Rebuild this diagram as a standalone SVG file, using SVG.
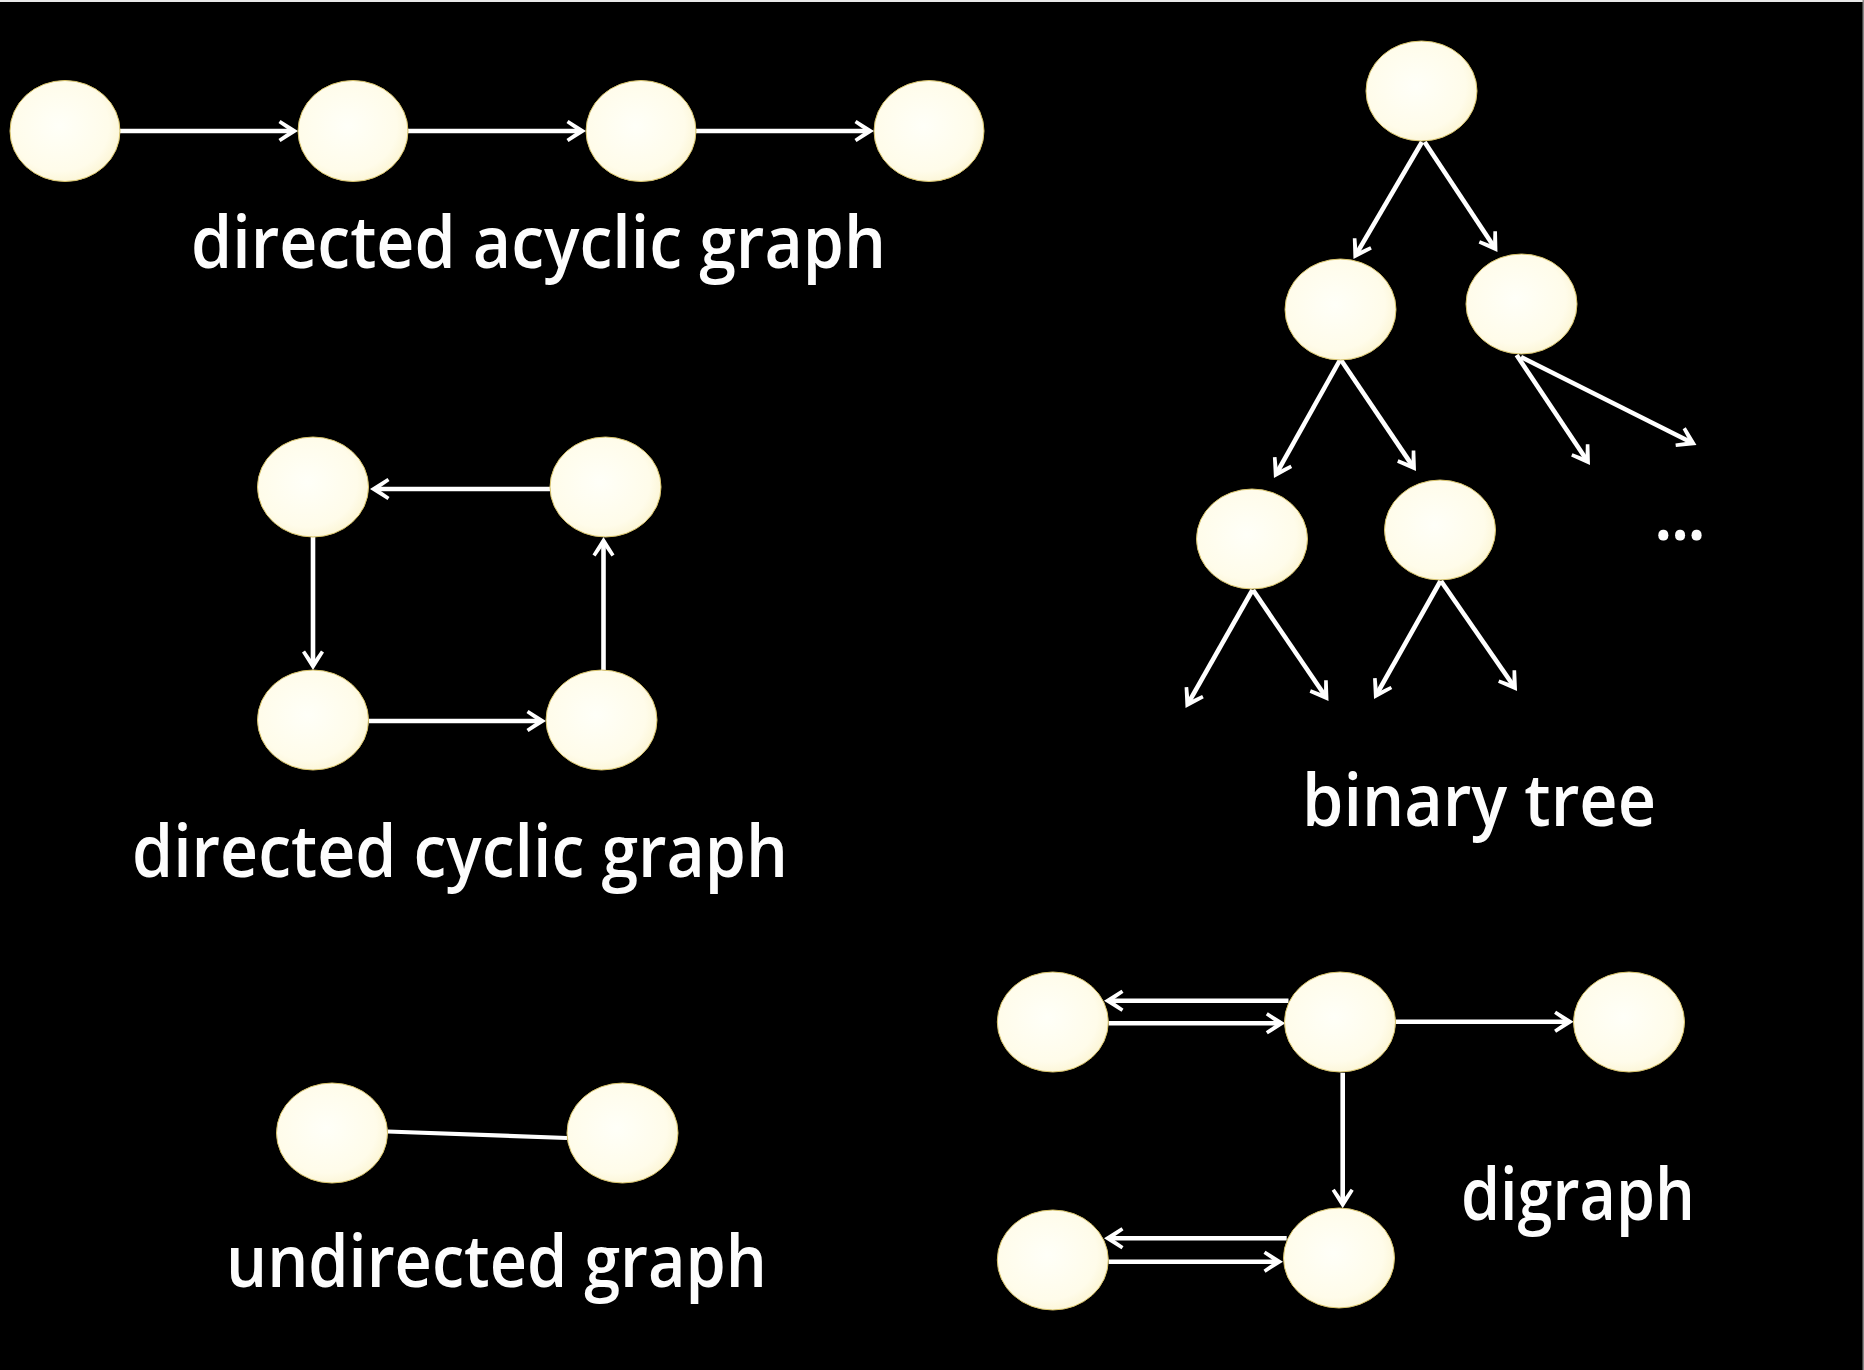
<svg xmlns="http://www.w3.org/2000/svg" width="1864" height="1370" viewBox="0 0 1864 1370">
<style>
.node{fill:url(#cream);stroke:#d8c36a;stroke-width:1}
.edge{stroke:#ffffff;stroke-width:4.6;fill:none;marker-end:url(#arr)}
.plain{stroke:#ffffff;stroke-width:4.2;fill:none}
.lbl{font-family:"Open Sans","Noto Sans","DejaVu Sans",sans-serif;font-size:72px;font-weight:600;fill:#fdfdfd}
</style>
<defs>
<radialGradient id="cream" cx="0.45" cy="0.45" r="0.6">
<stop offset="0" stop-color="#fffff8"/>
<stop offset="0.75" stop-color="#fffcea"/>
<stop offset="1" stop-color="#fbf4d2"/>
</radialGradient>
<marker id="arr" viewBox="-22 -15 28 30" markerWidth="28" markerHeight="30" refX="-5" refY="0" orient="auto" markerUnits="userSpaceOnUse">
<polygon points="0,0 -17.5,-11 -19.5,-8 -8,0 -19.5,8 -17.5,11" fill="#ffffff"/>
</marker>
</defs>
<rect x="0" y="0" width="1864" height="1370" fill="#000000"/>
<rect x="0" y="0" width="1864" height="2" fill="#e8e8e8"/>
<rect x="1862.5" y="0" width="1.5" height="1370" fill="#888888"/>

<g id="connectors">
<!-- directed acyclic graph -->
<line class="edge" x1="120" y1="131" x2="293" y2="131"/>
<line class="edge" x1="408" y1="131" x2="581" y2="131"/>
<line class="edge" x1="696" y1="131" x2="869" y2="131"/>
<!-- directed cyclic graph -->
<line class="edge" x1="550" y1="489" x2="375" y2="489"/>
<line class="edge" x1="313" y1="537" x2="313" y2="665"/>
<line class="edge" x1="369" y1="721" x2="541" y2="721"/>
<line class="edge" x1="603.5" y1="670" x2="603.5" y2="542"/>
<!-- undirected graph -->
<line class="plain" x1="387.5" y1="1131.5" x2="567" y2="1138"/>
<!-- binary tree -->
<line class="edge" x1="1422" y1="142" x2="1356" y2="254.7"/>
<line class="edge" x1="1424.6" y1="142" x2="1494.7" y2="247.8"/>
<line class="edge" x1="1340" y1="360" x2="1276.4" y2="473.6"/>
<line class="edge" x1="1341" y1="360" x2="1413.2" y2="466.9"/>
<line class="edge" x1="1516.6" y1="355" x2="1587.2" y2="460.8"/>
<line class="edge" x1="1521" y1="357" x2="1692" y2="442.8"/>
<line class="edge" x1="1252.5" y1="590" x2="1188" y2="703.6"/>
<line class="edge" x1="1253" y1="590" x2="1325.7" y2="696.8"/>
<line class="edge" x1="1440.5" y1="581" x2="1376.5" y2="694.6"/>
<line class="edge" x1="1441" y1="581" x2="1514.2" y2="686.8"/>
<!-- digraph -->
<line class="edge" x1="1108.6" y1="1023.3" x2="1280.3" y2="1023.3"/>
<line class="edge" x1="1288.5" y1="1000.7" x2="1109" y2="1000.7"/>
<line class="edge" x1="1395.5" y1="1021.7" x2="1568.6" y2="1021.7"/>
<line class="edge" x1="1342.7" y1="1072.7" x2="1342.7" y2="1203.3"/>
<line class="edge" x1="1286.7" y1="1238.3" x2="1109" y2="1238.3"/>
<line class="edge" x1="1108.6" y1="1261.7" x2="1278" y2="1261.7"/>
</g>

<g id="dag">
<g id="dag-n1"><ellipse class="node" cx="65" cy="131" rx="55" ry="50.5"/></g>
<g id="dag-n2"><ellipse class="node" cx="353" cy="131" rx="55" ry="50.5"/></g>
<g id="dag-n3"><ellipse class="node" cx="641" cy="131" rx="55" ry="50.5"/></g>
<g id="dag-n4"><ellipse class="node" cx="929" cy="131" rx="55" ry="50.5"/></g>
<g id="dag-label"><text class="lbl" x="191" y="268" textLength="695" lengthAdjust="spacingAndGlyphs">directed acyclic graph</text></g>
</g>

<g id="dcg">
<g id="dcg-tl"><ellipse class="node" cx="313" cy="487" rx="55.5" ry="50"/></g>
<g id="dcg-tr"><ellipse class="node" cx="605.5" cy="487" rx="55.5" ry="50"/></g>
<g id="dcg-bl"><ellipse class="node" cx="313" cy="720" rx="55.5" ry="50"/></g>
<g id="dcg-br"><ellipse class="node" cx="601.5" cy="720" rx="55.5" ry="50"/></g>
<g id="dcg-label"><text class="lbl" x="132" y="877" textLength="656" lengthAdjust="spacingAndGlyphs">directed cyclic graph</text></g>
</g>

<g id="ug">
<g id="ug-l"><ellipse class="node" cx="332" cy="1133" rx="55.5" ry="50"/></g>
<g id="ug-r"><ellipse class="node" cx="622.5" cy="1133" rx="55.5" ry="50"/></g>
<g id="ug-label"><text class="lbl" x="226" y="1287" textLength="541" lengthAdjust="spacingAndGlyphs">undirected graph</text></g>
</g>

<g id="tree">
<g id="tree-root"><ellipse class="node" cx="1421.5" cy="91" rx="55.5" ry="50"/></g>
<g id="tree-l"><ellipse class="node" cx="1340.5" cy="309.5" rx="55.5" ry="50.5"/></g>
<g id="tree-r"><ellipse class="node" cx="1521.5" cy="304" rx="55.5" ry="50"/></g>
<g id="tree-ll"><ellipse class="node" cx="1252" cy="539" rx="55.5" ry="50"/></g>
<g id="tree-lr"><ellipse class="node" cx="1440" cy="530" rx="55.5" ry="50"/></g>
<g id="tree-more"><text class="lbl" x="1655" y="540" style="font-size:64px;font-weight:700" textLength="50" lengthAdjust="spacingAndGlyphs">...</text></g>
<g id="tree-label"><text class="lbl" x="1302" y="826" textLength="354" lengthAdjust="spacingAndGlyphs">binary tree</text></g>
</g>

<g id="digraph">
<g id="dg-a"><ellipse class="node" cx="1052.8" cy="1022" rx="55.5" ry="50"/></g>
<g id="dg-b"><ellipse class="node" cx="1340" cy="1022" rx="55.5" ry="50"/></g>
<g id="dg-c"><ellipse class="node" cx="1629" cy="1022" rx="55.5" ry="50"/></g>
<g id="dg-d"><ellipse class="node" cx="1052.8" cy="1260" rx="55.5" ry="50"/></g>
<g id="dg-e"><ellipse class="node" cx="1339" cy="1258" rx="55.5" ry="50"/></g>
<g id="dg-label"><text class="lbl" x="1461" y="1220" textLength="234" lengthAdjust="spacingAndGlyphs">digraph</text></g>
</g>
</svg>
